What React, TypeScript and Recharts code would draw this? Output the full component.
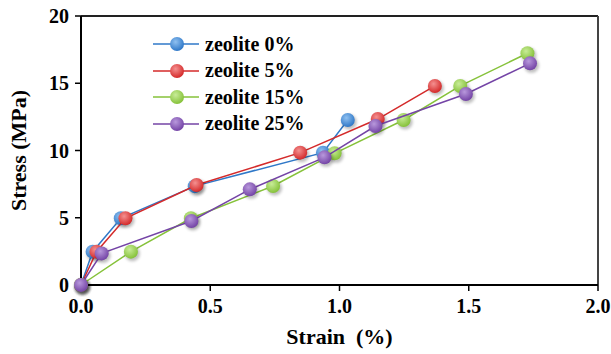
import React from 'react';
import {
  ScatterChart,
  Scatter,
  XAxis,
  YAxis,
  ReferenceLine,
} from 'recharts';

// strain (%) / stress (MPa) readings for each zeolite content
const zeolite0 = [
  { x: 0, y: 0 },
  { x: 0.045, y: 2.48 },
  { x: 0.154, y: 4.96 },
  { x: 0.44, y: 7.35 },
  { x: 0.936, y: 9.84 },
  { x: 1.032, y: 12.27 },
];
const zeolite5 = [
  { x: 0, y: 0 },
  { x: 0.06, y: 2.48 },
  { x: 0.172, y: 4.96 },
  { x: 0.447, y: 7.43 },
  { x: 0.848, y: 9.84 },
  { x: 1.148, y: 12.34 },
  { x: 1.369, y: 14.8 },
];
const zeolite15 = [
  { x: 0, y: 0 },
  { x: 0.193, y: 2.48 },
  { x: 0.425, y: 4.96 },
  { x: 0.743, y: 7.36 },
  { x: 0.981, y: 9.79 },
  { x: 1.248, y: 12.27 },
  { x: 1.467, y: 14.8 },
  { x: 1.727, y: 17.23 },
];
const zeolite25 = [
  { x: 0, y: 0 },
  { x: 0.08, y: 2.35 },
  { x: 0.427, y: 4.76 },
  { x: 0.653, y: 7.11 },
  { x: 0.942, y: 9.49 },
  { x: 1.139, y: 11.82 },
  { x: 1.489, y: 14.2 },
  { x: 1.737, y: 16.48 },
];

const xTicks = [0, 0.5, 1, 1.5, 2];
const yTicks = [0, 5, 10, 15, 20];

const seriesList = [
  { name: 'zeolite 0%', data: zeolite0, color: '#2f78c8', light: '#8fc0f0', id: 'b' },
  { name: 'zeolite 5%', data: zeolite5, color: '#d42a2a', light: '#f49090', id: 'r' },
  { name: 'zeolite 15%', data: zeolite15, color: '#86c23a', light: '#c8ec98', id: 'g' },
  { name: 'zeolite 25%', data: zeolite25, color: '#7444a6', light: '#b898dc', id: 'p' },
];

const FONT = '"Liberation Serif", "Times New Roman", serif';

const sphere = (id: string) => (props: any) => {
  const { cx, cy } = props;
  if (cx == null || cy == null) return null;
  return (
    <g>
      <circle cx={cx + 1.5} cy={cy + 2} r={7.5} fill="#000" opacity={0.25} filter="url(#soft)" />
      <circle cx={cx} cy={cy} r={7} fill={`url(#ball-${id})`} />
    </g>
  );
};

// legend sits inside the plot, upper left
const LegendBox = () => (
  <div
    style={{
      position: 'absolute',
      left: 153,
      top: 31,
      fontFamily: FONT,
      fontWeight: 'bold',
      fontSize: 20,
      color: '#000',
    }}
  >
    {seriesList.map((s) => (
      <div key={s.id} style={{ display: 'flex', alignItems: 'center', height: 26.5 }}>
        <svg width={50} height={20} style={{ marginRight: 2 }}>
          <line x1={0} y1={10} x2={46} y2={10} stroke={s.color} strokeWidth={1.5} />
          <circle cx={24} cy={10} r={7} fill={`url(#ball-${s.id})`} />
        </svg>
        <span>{s.name}</span>
      </div>
    ))}
  </div>
);

export default function App() {
  return (
    <div style={{ position: 'absolute', left: 0, top: 0, width: 611, height: 354, background: '#fff' }}>
      <ScatterChart width={611} height={354} margin={{ top: 16, right: 13, bottom: 0, left: 0 }}>
        <defs>
          <filter id="soft" x="-50%" y="-50%" width="200%" height="200%">
            <feGaussianBlur stdDeviation="1.5" />
          </filter>
          {seriesList.map((s) => (
            <radialGradient key={s.id} id={`ball-${s.id}`} cx="40%" cy="35%" r="65%">
              <stop offset="0%" stopColor={s.light} />
              <stop offset="100%" stopColor={s.color} />
            </radialGradient>
          ))}
        </defs>
        <XAxis
          type="number"
          dataKey="x"
          domain={[0, 2]}
          ticks={xTicks}
          tickFormatter={(v: number) => v.toFixed(1)}
          height={69}
          axisLine={{ stroke: '#000', strokeWidth: 2 }}
          tickLine={{ stroke: '#000', strokeWidth: 1.5 }}
          tickSize={6}
          tickMargin={8}
          tick={{ fill: '#000', fontFamily: FONT, fontWeight: 'bold', fontSize: 20 }}
          label={{
            value: 'Strain\u00a0\u00a0(%)',
            position: 'insideBottom',
            offset: 10,
            style: { fill: '#000', fontFamily: FONT, fontWeight: 'bold', fontSize: 22 },
          }}
        />
        <YAxis
          type="number"
          dataKey="y"
          domain={[0, 20]}
          ticks={yTicks}
          width={81}
          axisLine={{ stroke: '#000', strokeWidth: 2 }}
          tickLine={{ stroke: '#000', strokeWidth: 1.5 }}
          tickSize={6}
          tickMargin={6}
          tick={{ fill: '#000', fontFamily: FONT, fontWeight: 'bold', fontSize: 20 }}
          label={{
            content: ({ viewBox }: any) => {
              const cx = viewBox.x + 18;
              const cy = viewBox.y + viewBox.height / 2;
              return (
                <text
                  x={cx}
                  y={cy}
                  transform={`rotate(-90 ${cx} ${cy})`}
                  textAnchor="middle"
                  dominantBaseline="central"
                  fill="#000"
                  fontFamily={FONT}
                  fontWeight="bold"
                  fontSize={22}
                >
                  Stress (MPa)
                </text>
              );
            },
          }}
        />
        <ReferenceLine y={20} stroke="#222" strokeWidth={2} />
        <ReferenceLine x={2} stroke="#444" strokeWidth={2} />
        {seriesList.map((s) => (
          <Scatter
            key={s.id}
            name={s.name}
            data={s.data}
            line={{ stroke: s.color, strokeWidth: 1.5 }}
            shape={sphere(s.id)}
            isAnimationActive={false}
          />
        ))}
      </ScatterChart>
      <LegendBox />
    </div>
  );
}
